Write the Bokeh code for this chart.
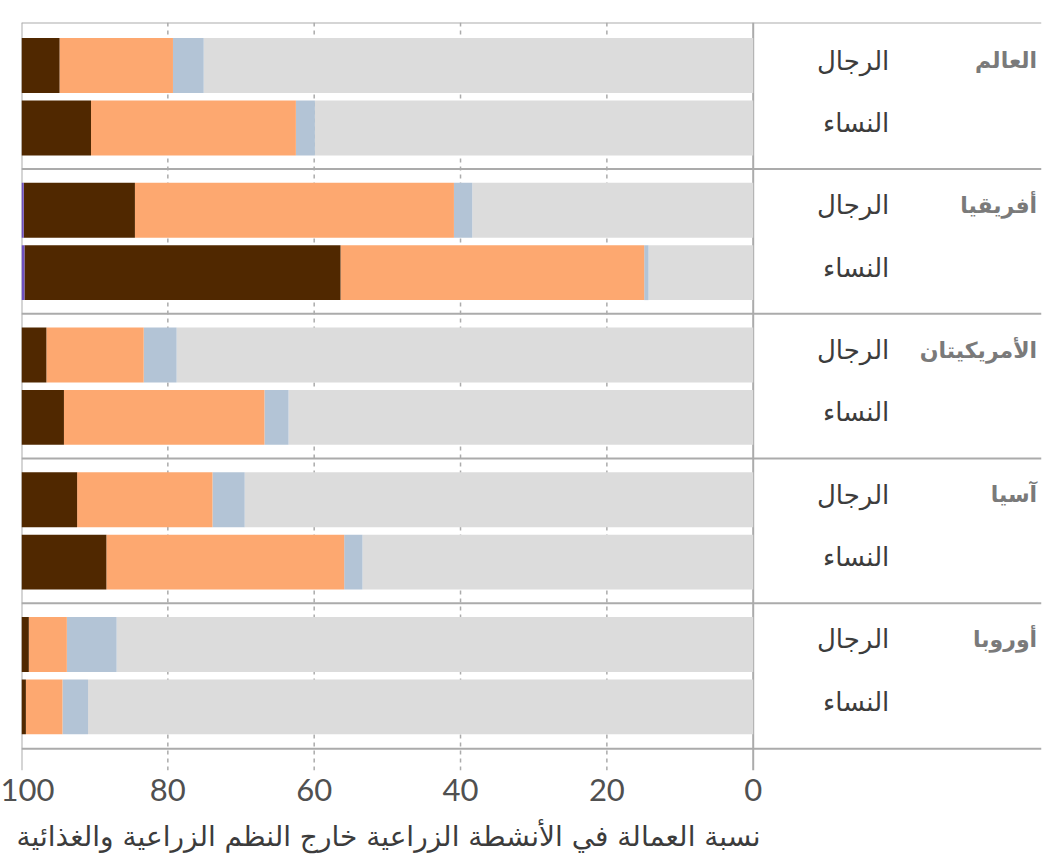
from bokeh.plotting import figure
from bokeh.models import ColumnDataSource, Range1d, FixedTicker, Title
from bokeh.core.properties import value
from bokeh.embed import file_html
from bokeh.resources import INLINE

# ---- data ----
regions = ["العالم", "أفريقيا", "الأمريكيتان", "آسيا", "أوروبا"]
sexes = ["الرجال", "النساء"]
# order: World M, World W, Africa M, Africa W, Americas M, Americas W, Asia M, Asia W, Europe M, Europe W
purple = [0.0, 0.0, 0.3, 0.4, 0.0, 0.0, 0.0, 0.0, 0.0, 0.0]
brown = [5.2, 9.5, 15.2, 43.2, 3.4, 5.8, 7.6, 11.6, 1.0, 0.6]
orange = [15.5, 28.0, 43.6, 41.5, 13.3, 27.4, 18.5, 32.5, 5.2, 5.0]
blue = [4.2, 2.6, 2.5, 0.6, 4.5, 3.3, 4.4, 2.5, 6.8, 3.5]
grey = [75.1, 59.9, 38.4, 14.3, 78.8, 63.5, 69.5, 53.4, 87.0, 90.9]
ticks = [0, 20, 40, 60, 80, 100]
axis_title = "نسبة العمالة في الأنشطة الزراعية خارج النظم الزراعية والغذائية"

colors = {"grey": "#DCDCDC", "blue": "#B3C4D6", "orange": "#FDA870",
          "brown": "#502800", "purple": "#6E50BE"}

# ---- layout positions ----
GROUP_PITCH = 2.32
ys = []
for g in range(len(regions)):
    for r in range(len(sexes)):
        ys.append(g * GROUP_PITCH + r)
y_top = -0.69
y_axis = ys[-1] + 0.67
y_bottom = ys[-1] + 1.02
x_right = -39.4

src = ColumnDataSource(dict(y=ys, grey=grey, blue=blue, orange=orange,
                            brown=brown, purple=purple))

p = figure(width=1048, height=867, output_backend="svg", toolbar_location=None,
           x_range=Range1d(100, x_right), y_range=Range1d(y_bottom, y_top),
           min_border_left=21, min_border_right=7, min_border_top=22,
           min_border_bottom=97)
p.outline_line_color = None
p.grid.visible = False
p.yaxis.visible = False
p.background_fill_color = "white"

line_col = "#ABABAB"
# vertical grid lines
for t in ticks:
    dash = "solid" if t in (0, 100) else "4 4"
    p.segment(x0=[t], x1=[t], y0=[y_top], y1=[y_bottom], line_color=line_col,
              line_width=2 if t in (0, 100) else 1.5, line_dash=dash)

# bars
stack = ["grey", "blue", "orange", "brown", "purple"]
p.hbar_stack(stack, y="y", height=0.88, source=src,
             color=[colors[s] for s in stack], line_color=None)

# horizontal lines: top, separators, axis
hy = [y_top] + [(ys[2 * g - 1] + ys[2 * g]) / 2 for g in range(1, len(regions))] + [y_axis]
p.segment(x0=[100] * len(hy), x1=[x_right] * len(hy), y0=hy, y1=hy,
          line_color=line_col, line_width=2)

# labels
p.text(x=[-18.6] * len(ys), y=ys, text=[sexes[i % 2] for i in range(len(ys))],
       text_align="right", text_baseline="middle", text_font_size="26px",
       text_color="#3C3C3C", text_font=value("DejaVu Sans"), y_offset=-5)
p.text(x=[-38.8] * len(regions), y=[ys[2 * g] for g in range(len(regions))],
       text=regions, text_align="right", text_baseline="middle",
       text_font_size="22px", text_font_style="bold", text_color="#7A7A7A",
       text_font=value("DejaVu Sans"), y_offset=-5)

# x axis
ax = p.xaxis[0]
ax.ticker = FixedTicker(ticks=ticks)
ax.axis_line_color = None
ax.major_tick_line_color = None
ax.minor_tick_line_color = None
ax.major_label_text_font_size = "31px"
ax.major_label_text_font = "Lato"
ax.major_label_text_color = "#505050"
ax.major_label_standoff = 2

t = Title(text=axis_title, align="left", text_font_size="28px",
          text_font="DejaVu Sans", text_font_style="normal", text_color="#3C3C3C",
          offset=-5, standoff=28)
p.add_layout(t, "below")

open("out.html", "w").write(file_html(p, INLINE))
